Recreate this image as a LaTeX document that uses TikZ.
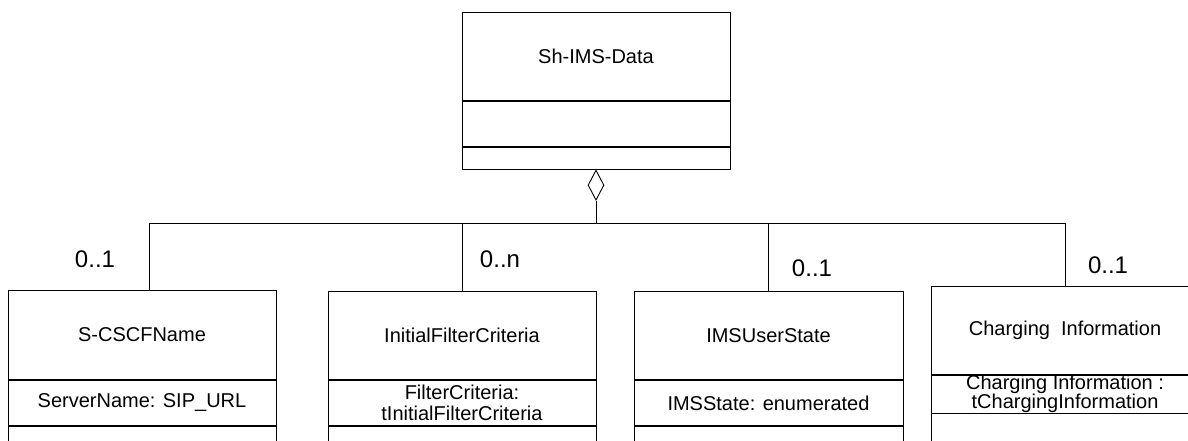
\documentclass[tikz,border=0pt]{standalone}
\usepackage{fontspec}
\setmainfont{Liberation Sans}
\usetikzlibrary{shapes.geometric}
\begin{document}
\begin{tikzpicture}[x=1pt,y=-1pt,
  comp/.style={draw=black,line width=0.9pt,rectangle,inner sep=0pt,anchor=north,align=center,font=\fontsize{20}{21}\selectfont},
  mult/.style={inner sep=0pt,font=\fontsize{24}{26}\selectfont},
  conn/.style={draw=black,line width=0.9pt}]
\useasboundingbox (0,0) rectangle (1188,441);
\clip (0,0) rectangle (1188,441);
% top class
\node[comp,minimum width=268pt,minimum height=88pt] (tn) at (596,12) {Sh-IMS-Data};
\node[comp,minimum width=268pt,minimum height=45pt] (ta) at (tn.south) {};
\node[comp,minimum width=268pt,minimum height=22pt] (to) at (ta.south) {};
% aggregation diamond
\node[draw=black,line width=0.9pt,shape=diamond,minimum width=16pt,minimum height=30pt,inner sep=0pt,anchor=north] (dia) at (to.south) {};
% class 1
\node[comp,minimum width=268pt,minimum height=89pt] (an) at (142,290) {S-CSCFName};
\node[comp,minimum width=268pt,minimum height=45pt] (aa) at (an.south) {ServerName: SIP\_URL};
\node[comp,minimum width=268pt,minimum height=40pt] (ao) at (aa.south) {};
% class 2
\node[comp,minimum width=268pt,minimum height=88pt] (bn) at (462,291) {InitialFilterCriteria};
\node[comp,minimum width=268pt,minimum height=45pt] (ba) at (bn.south) {FilterCriteria:\\tInitialFilterCriteria};
\node[comp,minimum width=268pt,minimum height=40pt] (bo) at (ba.south) {};
% class 3
\node[comp,minimum width=269pt,minimum height=88pt] (cn) at (768.5,291) {IMSUserState};
\node[comp,minimum width=269pt,minimum height=45pt] (ca) at (cn.south) {IMSState: enumerated};
\node[comp,minimum width=269pt,minimum height=40pt] (co) at (ca.south) {};
% class 4
\node[comp,minimum width=268pt,minimum height=88pt] (dn) at (1065,286) {Charging\ \ Information};
\node[comp,minimum width=268pt,minimum height=37pt,font=\fontsize{20}{19}\selectfont] (da) at (dn.south) {Charging Information :\\tChargingInformation};
\node[comp,minimum width=268pt,minimum height=40pt] (do) at (da.south) {};
% connectors
\coordinate (j) at (596,223);
\coordinate (h1) at (149,223);
\coordinate (h4) at (1065,223);
\draw[conn] (dia.south) -- (j);
\draw[conn] (h1) -- (h4);
\draw[conn] (h1) -- (h1 |- an.north);
\draw[conn] (bn.north |- j) -- (bn.north);
\draw[conn,line width=1.8pt] (cn.north |- j) -- (cn.north);
\draw[conn] (h4) -- (dn.north);
% multiplicities
\node[mult] (m1) at (95,259) {0..1};
\node[mult] (m2) at (500,259) {0..n};
\node[mult] (m3) at (812,268) {0..1};
\node[mult] (m4) at (1108,265) {0..1};
\end{tikzpicture}
\end{document}
